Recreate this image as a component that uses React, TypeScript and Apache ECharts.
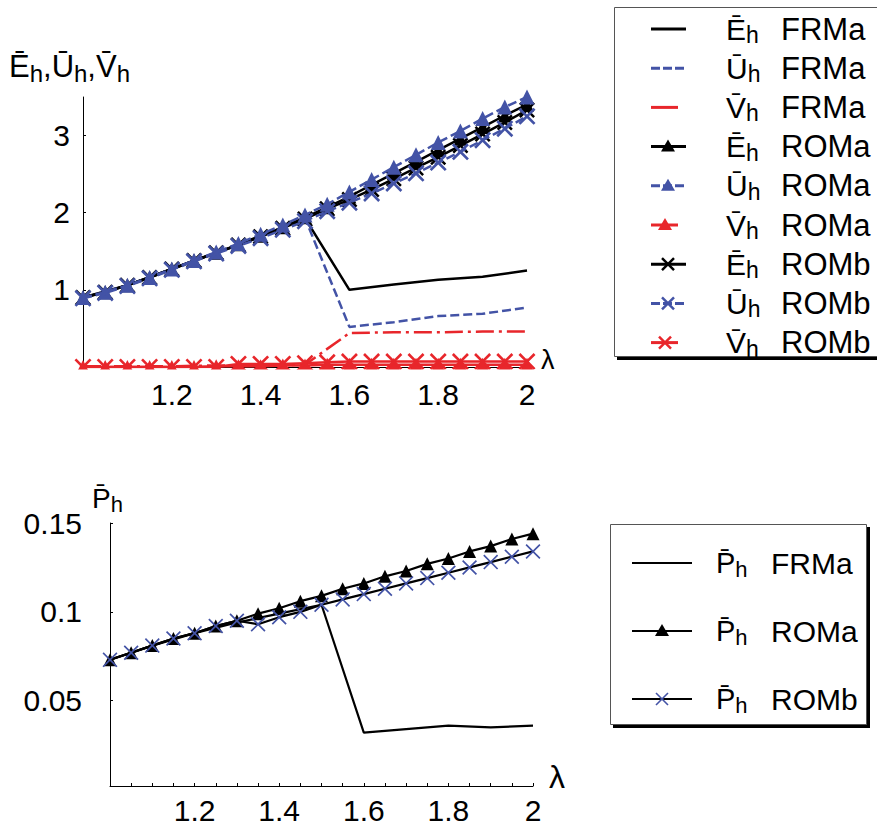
import React, { useEffect, useRef } from "react";
import * as echarts from "echarts";

// ---------- data ----------
const lambda21 = [1.0, 1.05, 1.1, 1.15, 1.2, 1.25, 1.3, 1.35, 1.4, 1.45, 1.5, 1.55, 1.6, 1.65, 1.7, 1.75, 1.8, 1.85, 1.9, 1.95, 2.0];
const lambda11 = [1.0, 1.1, 1.2, 1.3, 1.4, 1.5, 1.6, 1.7, 1.8, 1.9, 2.0];
const xTickLabels = [1.2, 1.4, 1.6, 1.8, 2];
const topYTickLabels = [1, 2, 3];
const bottomYTickLabels = [0.05, 0.1, 0.15];

// top panel: FRMa (step 0.1)
const frmaE = [0.9, 1.06, 1.27, 1.48, 1.69, 1.93, 1.0, 1.07, 1.13, 1.17, 1.25];
const frmaU = [0.9, 1.06, 1.27, 1.48, 1.69, 1.93, 0.52, 0.58, 0.66, 0.69, 0.77];
const frmaV = [0.01, 0.01, 0.01, 0.02, 0.02, 0.03, 0.44, 0.45, 0.45, 0.46, 0.46];
// top panel: ROMa / ROMb (step 0.05)
const romaE = [0.9, 0.97, 1.06, 1.16, 1.27, 1.38, 1.48, 1.59, 1.7, 1.81, 1.94, 2.07, 2.21, 2.36, 2.51, 2.66, 2.81, 2.96, 3.11, 3.26, 3.4];
const romaU = [0.9, 0.97, 1.06, 1.16, 1.27, 1.38, 1.49, 1.6, 1.72, 1.84, 1.97, 2.11, 2.27, 2.43, 2.59, 2.75, 2.91, 3.06, 3.22, 3.37, 3.5];
const romaV = [0.0, 0.0, 0.0, 0.0, 0.0, 0.0, 0.01, 0.01, 0.01, 0.02, 0.02, 0.03, 0.03, 0.03, 0.03, 0.03, 0.03, 0.03, 0.03, 0.03, 0.03];
const rombE = [0.9, 0.97, 1.06, 1.16, 1.27, 1.38, 1.48, 1.58, 1.69, 1.8, 1.92, 2.05, 2.17, 2.3, 2.44, 2.58, 2.72, 2.87, 3.02, 3.17, 3.33];
const rombU = [0.89, 0.96, 1.05, 1.15, 1.26, 1.37, 1.47, 1.57, 1.67, 1.78, 1.89, 2.02, 2.13, 2.25, 2.38, 2.51, 2.65, 2.79, 2.94, 3.09, 3.25];
const rombV = [0.0, 0.0, 0.0, 0.0, 0.0, 0.0, 0.0, 0.04, 0.04, 0.04, 0.05, 0.06, 0.07, 0.07, 0.07, 0.07, 0.07, 0.07, 0.07, 0.07, 0.07];

// bottom panel
const frmaP = [0.073, 0.081, 0.088, 0.094, 0.099, 0.104, 0.032, 0.034, 0.036, 0.035, 0.036];
const romaP = [0.073, 0.077, 0.081, 0.085, 0.088, 0.092, 0.095, 0.099, 0.102, 0.106, 0.109, 0.113, 0.116, 0.12, 0.123, 0.127, 0.13, 0.134, 0.137, 0.141, 0.144];
const rombP = [0.073, 0.077, 0.081, 0.085, 0.088, 0.092, 0.095, 0.093, 0.097, 0.1, 0.104, 0.107, 0.11, 0.113, 0.116, 0.119, 0.122, 0.125, 0.128, 0.131, 0.134];

const topLegendSymbols = ["\u0112", "\u016A", "V\u0304", "\u0112", "\u016A", "V\u0304", "\u0112", "\u016A", "V\u0304"];
const topLegendModels = ["FRMa", "FRMa", "FRMa", "ROMa", "ROMa", "ROMa", "ROMb", "ROMb", "ROMb"];
const bottomLegendModels = ["FRMa", "ROMa", "ROMb"];

// ---------- styles ----------
const BLUE = "#4353a6";
const RED = "#e8262b";
const BLACK = "#000000";
const FONT = '"Liberation Sans", Arial, Helvetica, sans-serif';
const X_THICK = "path://M0,1.1L1.1,0L5,3.9L8.9,0L10,1.1L6.1,5L10,8.9L8.9,10L5,6.1L1.1,10L0,8.9L3.9,5Z";
const X_THIN = "path://M0,0.8L0.8,0L5,4.2L9.2,0L10,0.8L5.8,5L10,9.2L9.2,10L5,5.8L0.8,10L0,9.2L4.2,5Z";
const DASH = [9, 4];
const DASHDOT = [18, 5, 3, 5];

const pairs = (xs: number[], ys: number[]) => xs.map((x, i) => [x, ys[i]]);

function line(name: string, grid: number, xs: number[], ys: number[], color: string, lineColor: string, dash: any, symbol: string | null, size: number, z: number, width = 2.5) {
  return {
    name,
    type: "line",
    xAxisIndex: grid,
    yAxisIndex: grid,
    data: pairs(xs, ys),
    showSymbol: !!symbol,
    symbol: symbol || "none",
    symbolSize: size,
    symbolKeepAspect: true,
    lineStyle: { color: lineColor, width, type: dash || "solid" },
    itemStyle: { color },
    z,
    silent: true,
  };
}

const sub = (main: string, size: number, subSize: number, pad: number) => ({
  text: `{m|${main}}{s|h}`,
  rich: {
    m: { fontSize: size, fontFamily: FONT, fill: "#000" },
    s: { fontSize: subSize, fontFamily: FONT, fill: "#000", padding: [pad, 0, 0, 0] },
  },
});

function buildGraphics() {
  const g: any[] = [];
  // white strip hiding marker halves below top x axis
  g.push({ type: "rect", shape: { x: 70, y: 369.5, width: 470, height: 11 }, style: { fill: "#fff" }, z: 100 });

  // axis names
  g.push({
    type: "text", x: 9, y: 66, z: 110,
    style: {
      text: "{m|\u0112}{s|h}{m|,\u016A}{s|h}{m|,V\u0304}{s|h}",
      rich: {
        m: { fontSize: 31, fontFamily: FONT, fill: "#000" },
        s: { fontSize: 24, fontFamily: FONT, fill: "#000", padding: [14, 0, 0, 0] },
      },
      verticalAlign: "middle",
    },
  });
  g.push({ type: "text", x: 541, y: 360, z: 110, style: { text: "\u03BB", fontSize: 27, fontFamily: FONT, fill: "#000", verticalAlign: "middle" } });
  g.push({ type: "text", x: 92, y: 498, z: 110, style: { ...sub("P\u0304", 28, 22, 12), verticalAlign: "middle" } });
  g.push({ type: "text", x: 549, y: 777, z: 110, style: { text: "\u03BB", fontSize: 32, fontFamily: FONT, fill: "#000", verticalAlign: "middle" } });

  // top legend box
  g.push({ type: "rect", shape: { x: 617, y: 356, width: 300, height: 4 }, style: { fill: "#000" }, z: 100 });
  g.push({ type: "rect", shape: { x: 614.5, y: 7.5, width: 300, height: 349 }, style: { fill: "#fff", stroke: "#555", lineWidth: 1 }, z: 101 });
  const colors = [BLACK, BLUE, RED];
  topLegendModels.forEach((model, i) => {
    const y = 29 + i * 39.2;
    const c = colors[i % 3];
    const isRed = i % 3 === 2;
    const x2 = isRed ? 678 : 686;
    g.push({ type: "line", shape: { x1: 651, y1: y, x2, y2: y }, style: { stroke: c, lineWidth: 3, lineDash: i % 3 === 1 ? [9, 3] : null }, z: 102 });
    const mx = isRed ? 665 : 668;
    if (model === "ROMa") {
      g.push({ type: "polygon", shape: { points: [[mx, y - 7], [mx + 7, y + 5], [mx - 7, y + 5]] }, style: { fill: c }, z: 103 });
    } else if (model === "ROMb") {
      g.push({ type: "line", shape: { x1: mx - 6, y1: y - 6, x2: mx + 6, y2: y + 6 }, style: { stroke: c, lineWidth: 2.5 }, z: 103 });
      g.push({ type: "line", shape: { x1: mx - 6, y1: y + 6, x2: mx + 6, y2: y - 6 }, style: { stroke: c, lineWidth: 2.5 }, z: 103 });
    }
    g.push({ type: "text", x: 726, y, z: 103, style: { ...sub(topLegendSymbols[i], 30, 23, 12), verticalAlign: "middle" } });
    g.push({ type: "text", x: 781, y, z: 103, style: { text: model, fontSize: 31, fontFamily: FONT, fill: "#000", verticalAlign: "middle" } });
  });

  // bottom legend box
  g.push({ type: "rect", shape: { x: 866, y: 527, width: 4, height: 201 }, style: { fill: "#000" }, z: 100 });
  g.push({ type: "rect", shape: { x: 613, y: 724, width: 257, height: 4 }, style: { fill: "#000" }, z: 100 });
  g.push({ type: "rect", shape: { x: 610.5, y: 524.5, width: 256, height: 200 }, style: { fill: "#fff", stroke: "#555", lineWidth: 1 }, z: 101 });
  bottomLegendModels.forEach((model, i) => {
    const y = 563 + i * 68;
    g.push({ type: "line", shape: { x1: 632, y1: y, x2: 692, y2: y }, style: { stroke: "#000", lineWidth: 2 }, z: 102 });
    if (model === "ROMa") {
      g.push({ type: "polygon", shape: { points: [[662, y - 7], [669, y + 5], [655, y + 5]] }, style: { fill: "#000" }, z: 103 });
    } else if (model === "ROMb") {
      g.push({ type: "line", shape: { x1: 656, y1: y - 6, x2: 668, y2: y + 6 }, style: { stroke: BLUE, lineWidth: 1.6 }, z: 103 });
      g.push({ type: "line", shape: { x1: 656, y1: y + 6, x2: 668, y2: y - 6 }, style: { stroke: BLUE, lineWidth: 1.6 }, z: 103 });
    }
    g.push({ type: "text", x: 716, y, z: 103, style: { ...sub("P\u0304", 29, 22, 12), verticalAlign: "middle" } });
    g.push({ type: "text", x: 771, y, z: 103, style: { text: model, fontSize: 30, fontFamily: FONT, fill: "#000", verticalAlign: "middle" } });
  });
  return g;
}

function xAxis(grid: number, margin: number) {
  return {
    type: "value",
    gridIndex: grid,
    min: 1,
    max: 2,
    axisLine: { onZero: false, lineStyle: { color: "#000", width: 1 } },
    axisTick: { show: true, inside: true, length: 3, customValues: lambda21, lineStyle: { color: "#000" } },
    axisLabel: { customValues: xTickLabels, fontSize: 30, fontFamily: FONT, color: "#000", margin },
    splitLine: { show: false },
  };
}

function yAxis(grid: number, min: number, max: number, ticks: number[], margin: number) {
  return {
    type: "value",
    gridIndex: grid,
    min,
    max,
    axisLine: { show: true, onZero: false, lineStyle: { color: "#000", width: 1 } },
    axisTick: { show: true, inside: true, length: 3, customValues: ticks, lineStyle: { color: "#000" } },
    axisLabel: { customValues: ticks, fontSize: 30, fontFamily: FONT, color: "#000", margin },
    splitLine: { show: false },
  };
}

function buildOption() {
  return {
    animation: false,
    backgroundColor: "#fff",
    grid: [
      { left: 83, top: 97, width: 444, height: 270 },
      { left: 110, top: 523, width: 423, height: 263 },
    ],
    xAxis: [xAxis(0, 12), xAxis(1, 9)],
    yAxis: [yAxis(0, 0, 3.5, topYTickLabels, 13), yAxis(1, 0.002, 0.15, bottomYTickLabels, 28)],
    series: [
      line("\u0112h FRMa", 0, lambda11, frmaE, BLACK, BLACK, null, null, 0, 3),
      line("\u016Ah FRMa", 0, lambda11, frmaU, BLUE, BLUE, DASH, null, 0, 3),
      line("V\u0304h FRMa", 0, lambda11, frmaV, RED, RED, DASHDOT, null, 0, 3),
      line("\u0112h ROMa", 0, lambda21, romaE, BLACK, BLACK, null, "triangle", 14, 4),
      line("\u0112h ROMb", 0, lambda21, rombE, BLACK, BLACK, null, X_THICK, 16, 5),
      line("\u016Ah ROMa", 0, lambda21, romaU, BLUE, BLUE, DASH, "triangle", 15, 6),
      line("\u016Ah ROMb", 0, lambda21, rombU, BLUE, BLUE, DASH, X_THICK, 17, 7),
      line("V\u0304h ROMa", 0, lambda21, romaV, RED, RED, null, "triangle", 14, 8),
      line("V\u0304h ROMb", 0, lambda21, rombV, RED, RED, null, X_THICK, 17, 9),
      line("P\u0304h FRMa", 1, lambda11, frmaP, BLACK, BLACK, null, null, 0, 3, 2.2),
      line("P\u0304h ROMa", 1, lambda21, romaP, BLACK, BLACK, null, "triangle", 13, 4, 2.2),
      line("P\u0304h ROMb", 1, lambda21, rombP, BLUE, BLACK, null, X_THIN, 15, 5, 2.2),
    ],
    graphic: { elements: buildGraphics() },
  };
}

export default function App() {
  const ref = useRef<HTMLDivElement>(null);
  useEffect(() => {
    if (!ref.current) return;
    const chart = echarts.init(ref.current, null, { renderer: "svg" });
    chart.setOption(buildOption() as any);
    return () => chart.dispose();
  }, []);
  return (
    <div
      ref={ref}
      style={{ position: "fixed", left: 0, top: 0, width: 877, height: 825, background: "#fff" }}
    />
  );
}
